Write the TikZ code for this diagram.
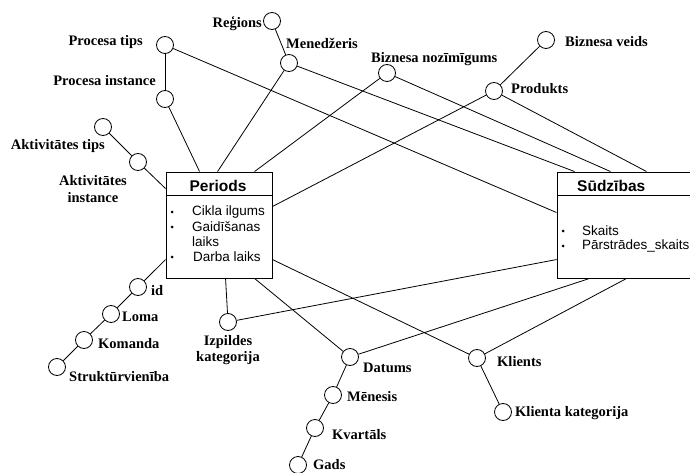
\documentclass[tikz,border=0pt]{standalone}
\usepackage{fontspec}
\setmainfont{Liberation Serif}
\setsansfont{Liberation Sans}
\usetikzlibrary{calc}
\begin{document}
\begin{tikzpicture}[x=1pt,y=-1pt,
  attr/.style={circle,draw,line width=0.8pt,minimum size=17pt,inner sep=0pt},
  lbl/.style={font=\fontsize{14.5}{16.5}\selectfont\bfseries,inner sep=0pt},
  entity/.style={draw,line width=0.9pt,inner sep=0pt},
  item/.style={font=\sffamily\fontsize{13.5}{15}\selectfont,anchor=west,inner sep=0pt},
  etitle/.style={font=\sffamily\bfseries\fontsize{15.5}{17}\selectfont,inner sep=0pt},
  link/.style={line width=0.8pt},
  bul/.style={circle,fill,inner sep=0pt,minimum size=3pt}]
\useasboundingbox (0,0) rectangle (690,473);
\clip (0,0) rectangle (690,473);

% ---- fact tables ----
\node[entity,minimum width=106pt,minimum height=106pt] (P) at (219,225) {};
\draw[link] ([yshift=-24pt]P.north west) -- ([yshift=-24pt]P.north east);
\node[etitle] (Pt) at (218,186) {Periods};
\node[bul] (Pb1) at (172,212) {};
\node[bul] (Pb2) at (172,227) {};
\node[bul] (Pb3) at (172,257) {};
\node[item] (Pi1) at (192,212) {Cikla ilgums};
\node[item] (Pi2) at (192,227) {Gaidīšanas};
\node[item] (Pi3) at (192,242) {laiks};
\node[item] (Pi4) at (193,257) {Darba laiks};

\node[entity,minimum width=163pt,minimum height=106pt] (S) at (638.5,225) {};
\draw[link] ([yshift=-24pt]S.north west) -- ([yshift=-24pt]S.north east);
\node[etitle,anchor=west] (St) at (577,186) {Sūdzības};
\node[bul] (Sb1) at (563,231) {};
\node[bul] (Sb2) at (563,246) {};
\node[item] (Si1) at (582,231) {Skaits};
\node[item] (Si2) at (582,246) {Pārstrādes\_skaits};

% ---- attachment points on the tables ----
\coordinate (Pn1) at ([xshift=34pt]P.north west);
\coordinate (Pn2) at ([xshift=52pt]P.north west);
\coordinate (Pn3) at ([xshift=89pt]P.north west);
\coordinate (Pe1) at ([yshift=-35pt]P.north east);
\coordinate (Pe2) at ([yshift=-88pt]P.north east);
\coordinate (Pw1) at ([yshift=-17pt]P.north west);
\coordinate (Pw2) at ([yshift=-88pt]P.north west);
\coordinate (Ps1) at ([xshift=60pt]P.south west);
\coordinate (Ps2) at ([xshift=89pt]P.south west);

\coordinate (Sn1) at ([xshift=18pt]S.north west);
\coordinate (Sn2) at ([xshift=54pt]S.north west);
\coordinate (Sn3) at ([xshift=90pt]S.north west);
\coordinate (Sw1) at ([yshift=-41pt]S.north west);
\coordinate (Sw2) at ([yshift=-88pt]S.north west);
\coordinate (Ss1) at ([xshift=33pt]S.south west);
\coordinate (Ss2) at ([xshift=70pt]S.south west);

% ---- dimension levels ----
\node[attr] (reg) at (272,21) {};
\node[attr] (ptip) at (165,45) {};
\node[attr] (men) at (289,63) {};
\node[attr] (pinst) at (165,99) {};
\node[attr] (atip) at (103,127) {};
\node[attr] (ainst) at (138,162) {};
\node[attr] (bnoz) at (387,73) {};
\node[attr] (bveid) at (546,40) {};
\node[attr] (prod) at (494,91) {};
\node[attr] (id) at (138,287) {};
\node[attr] (loma) at (111,314) {};
\node[attr] (kom) at (84,340) {};
\node[attr] (strukt) at (57,367) {};
\node[attr] (izp) at (228,322) {};
\node[attr] (dat) at (350,357) {};
\node[attr] (men2) at (333,395) {};
\node[attr] (kv) at (315,428) {};
\node[attr] (gads) at (298,465) {};
\node[attr] (kl) at (477,358) {};
\node[attr] (klk) at (503,412) {};

% ---- labels ----
\node[lbl,anchor=east] (lreg) at (262,24) {Reģions};
\node[lbl,anchor=east] (lptip) at (143,42) {Procesa tips};
\node[lbl,anchor=west] (lmen) at (286,43) {Menedžeris};
\node[lbl,anchor=east] (lpinst) at (156,81) {Procesa instance};
\node[lbl,anchor=east] (latip) at (105,146) {Aktivitātes tips};
\node[lbl,align=center] (lainst) at (93,189) {Aktivitātes\\instance};
\node[lbl,anchor=west] (lbnoz) at (371,59) {Biznesa nozīmīgums};
\node[lbl,anchor=west] (lbveid) at (565,42) {Biznesa veids};
\node[lbl,anchor=west] (lprod) at (511,89) {Produkts};
\node[lbl,anchor=west] (lid) at (151,291) {id};
\node[lbl,anchor=west] (lloma) at (122,317) {Loma};
\node[lbl,anchor=west] (lkom) at (98,344) {Komanda};
\node[lbl,anchor=west] (lstrukt) at (69,377) {Struktūrvienība};
\node[lbl,align=center] (lizp) at (228,350) {Izpildes\\kategorija};
\node[lbl,anchor=west] (ldat) at (363,368) {Datums};
\node[lbl,anchor=west] (lmen2) at (347,397) {Mēnesis};
\node[lbl,anchor=west] (lkv) at (332,435) {Kvartāls};
\node[lbl,anchor=west] (lgads) at (313,465) {Gads};
\node[lbl,anchor=west] (lkl) at (497,362) {Klients};
\node[lbl,anchor=west] (lklk) at (515,413) {Klienta kategorija};

% ---- hierarchy links ----
\draw[link] (reg) -- (men);
\draw[link] (ptip) -- (pinst);
\draw[link] (atip) -- (ainst);
\draw[link] (bveid) -- (prod);
\draw[link] (id) -- (loma);
\draw[link] (loma) -- (kom);
\draw[link] (kom) -- (strukt);
\draw[link] (dat) -- (men2);
\draw[link] (men2) -- (kv);
\draw[link] (kv) -- (gads);
\draw[link] (kl) -- (klk);

% ---- links to Periods ----
\draw[link] (pinst) -- (Pn1);
\draw[link] (men) -- (Pn2);
\draw[link] (bnoz) -- (Pn3);
\draw[link] (prod) -- (Pe1);
\draw[link] (kl) -- (Pe2);
\draw[link] (ainst) -- (Pw1);
\draw[link] (id) -- (Pw2);
\draw[link] (izp) -- (Ps1);
\draw[link] (dat) -- (Ps2);

% ---- links to Sūdzības ----
\draw[link] (ptip) -- (Sw1);
\draw[link] (men) -- (Sn1);
\draw[link] (bnoz) -- (Sn2);
\draw[link] (prod) -- (Sn3);
\draw[link] (izp) -- (Sw2);
\draw[link] (dat) -- (Ss1);
\draw[link] (kl) -- (Ss2);
\end{tikzpicture}
\end{document}
